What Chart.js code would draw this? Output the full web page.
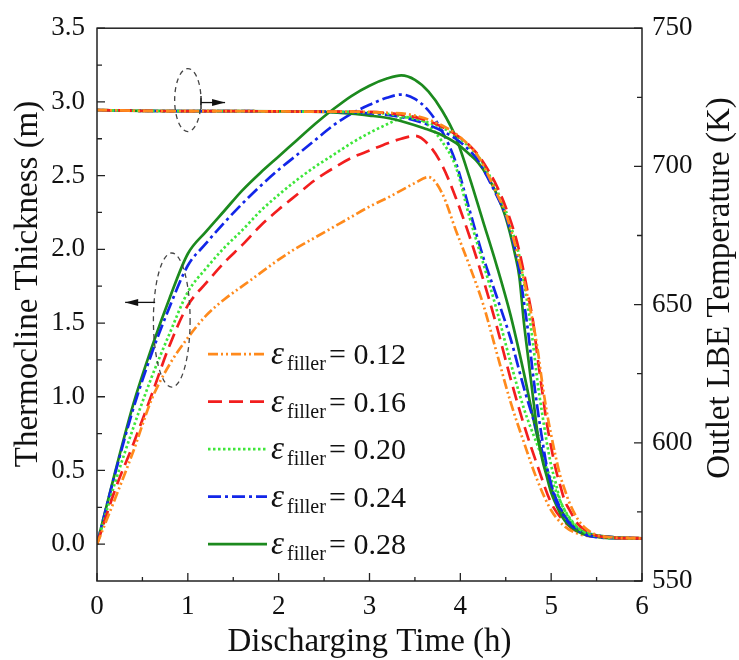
<!DOCTYPE html>
<html>
<head>
<meta charset="utf-8">
<script src="https://cdn.jsdelivr.net/npm/chart.js@4.4.1/dist/chart.umd.min.js"></script>
<style>
  html, body { margin: 0; padding: 0; background: #fff; }
  #wrap { width: 739px; height: 660px; position: relative; }
</style>
</head>
<body>
<div id="wrap"><canvas id="thermoChart" width="739" height="660"></canvas></div>
<script>
// time grids (h)
const timeThick = [0, 0.2, 0.4, 0.6, 0.8, 1.0, 1.2, 1.4, 1.6, 1.8, 2.0, 2.2, 2.4, 2.6, 2.8, 3.0, 3.2, 3.35,
                   3.5, 3.65, 3.8, 3.95, 4.1, 4.25, 4.4, 4.55, 4.7, 4.85, 5.0, 5.15, 5.3, 5.5, 5.75, 6.0];
const timeTemp = [0, 0.5, 1, 1.5, 2, 2.5, 2.8, 3.0, 3.2, 3.4, 3.6, 3.8, 3.95, 4.1, 4.2, 4.3, 4.4, 4.5, 4.6,
                  4.65, 4.7, 4.75, 4.8, 4.85, 4.9, 4.95, 5.0, 5.05, 5.1, 5.15, 5.2, 5.3, 5.4, 5.5, 5.6, 5.75, 6.0];

// thermocline thickness (m)
const thick012 = [0, 0.31, 0.63, 0.98, 1.22, 1.40, 1.55, 1.66, 1.75, 1.84, 1.93, 2.01, 2.08, 2.15, 2.22, 2.29, 2.35, 2.40,
                  2.45, 2.49, 2.38, 2.13, 1.89, 1.63, 1.30, 0.97, 0.69, 0.43, 0.23, 0.12, 0.07, 0.05, 0.045, 0.04];
const thick016 = [0, 0.37, 0.68, 1.01, 1.35, 1.62, 1.77, 1.91, 2.03, 2.16, 2.27, 2.37, 2.47, 2.55, 2.62, 2.67, 2.72, 2.75,
                  2.77, 2.71, 2.57, 2.35, 2.09, 1.80, 1.48, 1.13, 0.81, 0.53, 0.28, 0.15, 0.08, 0.055, 0.045, 0.04];
const thick020 = [0, 0.42, 0.79, 1.13, 1.43, 1.71, 1.87, 2.01, 2.13, 2.26, 2.37, 2.47, 2.56, 2.64, 2.72, 2.79, 2.85, 2.89,
                  2.90, 2.84, 2.73, 2.56, 2.22, 1.91, 1.59, 1.24, 0.92, 0.67, 0.44, 0.23, 0.11, 0.06, 0.045, 0.04];
const thick024 = [0, 0.48, 0.92, 1.29, 1.61, 1.89, 2.04, 2.18, 2.31, 2.43, 2.54, 2.64, 2.74, 2.84, 2.92, 2.98, 3.03, 3.05,
                  3.02, 2.94, 2.80, 2.59, 2.27, 1.95, 1.68, 1.40, 1.06, 0.75, 0.40, 0.19, 0.10, 0.06, 0.045, 0.04];
const thick028 = [0, 0.49, 0.95, 1.33, 1.67, 1.97, 2.12, 2.26, 2.40, 2.52, 2.63, 2.74, 2.85, 2.95, 3.04, 3.11, 3.16, 3.18,
                  3.15, 3.07, 2.94, 2.76, 2.49, 2.19, 1.89, 1.56, 1.16, 0.72, 0.38, 0.19, 0.10, 0.06, 0.045, 0.04];

// outlet LBE temperature (K)
const temp012 = [720.4, 720.1, 720.0, 720.0, 719.9, 719.8, 719.8, 719.7, 719.4, 719.0, 717.5, 714.8, 711.8, 707.5, 703.5,
                 697.3, 690.3, 683.0, 672.0, 665.5, 659.0, 651.2, 643.5, 634.0, 622.0, 611.5, 602.8, 595.0, 588.0, 583.0,
                 578.4, 572.0, 568.5, 566.7, 566.0, 565.6, 565.4];
const temp016 = [720.4, 720.1, 720.0, 720.0, 719.9, 719.8, 719.8, 719.7, 719.3, 718.5, 717.0, 714.3, 711.5, 707.6, 704.0,
                 699.0, 693.0, 685.2, 675.5, 669.2, 661.5, 653.0, 644.0, 631.0, 619.0, 607.5, 598.5, 590.5, 584.5, 579.0,
                 575.8, 570.4, 568.0, 566.4, 565.8, 565.5, 565.4];
const temp020 = [720.4, 720.1, 720.0, 720.0, 719.9, 719.8, 719.7, 719.5, 719.0, 717.9, 716.3, 714.0, 711.1, 707.0, 703.5,
                 698.0, 691.5, 684.0, 673.5, 667.5, 658.0, 648.0, 636.0, 622.0, 610.8, 600.5, 591.8, 585.5, 579.0, 575.5,
                 572.6, 569.0, 567.2, 566.2, 565.7, 565.5, 565.4];
const temp024 = [720.4, 720.1, 720.0, 720.0, 719.9, 719.8, 719.6, 719.2, 718.6, 717.5, 715.6, 712.8, 710.0, 705.8, 702.0,
                 696.0, 689.5, 682.2, 670.5, 662.5, 651.0, 639.2, 624.8, 612.3, 601.5, 591.8, 585.0, 579.0, 576.0, 573.0,
                 570.8, 568.2, 566.5, 565.9, 565.6, 565.5, 565.4];
const temp028 = [720.4, 720.1, 720.0, 720.0, 719.9, 719.7, 719.1, 718.4, 717.5, 715.9, 713.8, 711.3, 708.5, 704.4, 701.2,
                 696.4, 690.0, 681.5, 668.5, 660.0, 643.5, 630.0, 616.5, 603.5, 594.2, 588.0, 582.0, 578.0, 574.5, 571.8,
                 570.0, 567.8, 566.5, 566.0, 565.6, 565.5, 565.4];

const fillerValues = ['0.12', '0.16', '0.20', '0.24', '0.28'];

// axis ticks
const xTicks = [0, 1, 2, 3, 4, 5, 6];
const xMinorTicks = [0.5, 1.5, 2.5, 3.5, 4.5, 5.5];
const leftTicks = [0, 0.5, 1.0, 1.5, 2.0, 2.5, 3.0, 3.5];
const leftMinorTicks = [0.25, 0.75, 1.25, 1.75, 2.25, 2.75, 3.25];
const rightTicks = [550, 600, 650, 700, 750];
const rightMinorTicks = [575, 625, 675, 725];

const thickSeries = [thick012, thick016, thick020, thick024, thick028];
const tempSeries = [temp012, temp016, temp020, temp024, temp028];

const seriesStyle = [
    { color: '#ff8a1c', dash: [10, 3, 2, 3, 2, 3] },   // 0.12 dash-dot-dot
    { color: '#f21e1e', dash: [14, 7] },               // 0.16 dash
    { color: '#3ee63a', dash: [2.5, 2.5] },            // 0.20 dot
    { color: '#1226e8', dash: [13, 4, 3, 4] },         // 0.24 dash-dot
    { color: '#1c8a1e', dash: [] }                     // 0.28 solid
];

const serif = "'Liberation Serif', 'Times New Roman', serif";
const LINE_W = 2.7;

function toPoints(xs, ys) {
    return xs.map((x, i) => ({ x: x, y: ys[i] }));
}

function fixedTicks(values) {
    return function (scale) {
        scale.ticks = values.map(v => ({ value: v }));
    };
}

const datasets = [];
tempSeries.forEach((vals, i) => {
    datasets.push({
        label: 'T ' + fillerValues[i],
        data: toPoints(timeTemp, vals),
        yAxisID: 'y2',
        borderColor: seriesStyle[i].color,
        borderDash: seriesStyle[i].dash,
        borderWidth: LINE_W,
        pointRadius: 0,
        fill: false,
        cubicInterpolationMode: 'monotone'
    });
});
thickSeries.forEach((vals, i) => {
    datasets.push({
        label: 'L ' + fillerValues[i],
        data: toPoints(timeThick, vals),
        yAxisID: 'y',
        borderColor: seriesStyle[i].color,
        borderDash: seriesStyle[i].dash,
        borderWidth: LINE_W,
        pointRadius: 0,
        fill: false,
        cubicInterpolationMode: 'monotone'
    });
});

// frame, inward ticks, titles, legend and the two dashed ellipse markers
const decorPlugin = {
    id: 'decor',
    afterDraw(chart) {
        const { ctx, chartArea: a, scales } = chart;
        const sx = scales.x, sy = scales.y, sr = scales.y2;
        ctx.save();

        ctx.strokeStyle = '#222';
        ctx.lineWidth = 1.5;
        ctx.setLineDash([]);
        ctx.strokeRect(a.left, a.top, a.right - a.left, a.bottom - a.top);

        ctx.lineWidth = 1.3;
        ctx.beginPath();
        const tick = (list, len, fn) => list.forEach(v => fn(v, len));
        const xTick = (v, len) => { const p = sx.getPixelForValue(v); ctx.moveTo(p, a.bottom); ctx.lineTo(p, a.bottom - len); };
        const lTick = (v, len) => { const p = sy.getPixelForValue(v); ctx.moveTo(a.left, p); ctx.lineTo(a.left + len, p); };
        const rTick = (v, len) => { const p = sr.getPixelForValue(v); ctx.moveTo(a.right, p); ctx.lineTo(a.right - len, p); };
        tick(xTicks, 8, xTick); tick(xMinorTicks, 4, xTick);
        tick(leftTicks, 8, lTick); tick(leftMinorTicks, 5, lTick);
        tick(rightTicks, 8, rTick); tick(rightMinorTicks, 5, rTick);
        ctx.stroke();

        // axis titles
        ctx.fillStyle = '#111';
        ctx.font = '33px ' + serif;
        ctx.textAlign = 'center';
        ctx.textBaseline = 'alphabetic';
        ctx.fillText('Discharging Time (h)', (a.left + a.right) / 2, 651);
        ctx.textBaseline = 'middle';
        ctx.save();
        ctx.translate(28, 284);
        ctx.rotate(-Math.PI / 2);
        ctx.fillText('Thermocline Thickness (m)', 0, 0);
        ctx.restore();
        ctx.save();
        ctx.translate(720, 288);
        ctx.rotate(-Math.PI / 2);
        ctx.fillText('Outlet LBE Temperature (K)', 0, 0);
        ctx.restore();

        // legend
        fillerValues.forEach((val, i) => {
            const y = a.top + 326 + i * 47.5;
            const st = seriesStyle[i];
            ctx.strokeStyle = st.color;
            ctx.lineWidth = LINE_W;
            ctx.setLineDash(st.dash);
            ctx.beginPath();
            ctx.moveTo(208, y);
            ctx.lineTo(267, y);
            ctx.stroke();
            ctx.setLineDash([]);
            ctx.fillStyle = '#111';
            ctx.textAlign = 'left';
            ctx.textBaseline = 'alphabetic';
            ctx.font = 'italic 33px ' + serif;
            ctx.fillText('\u03b5', 271, y + 10);
            ctx.font = '20px ' + serif;
            ctx.fillText('filler', 287, y + 16);
            ctx.font = '30px ' + serif;
            ctx.fillText('= ' + val, 329, y + 10);
        });

        // dashed ellipses with arrows
        ctx.strokeStyle = '#444';
        ctx.fillStyle = '#111';
        ctx.lineWidth = 1.3;
        const ell = (cx, cy, rx, ry) => {
            ctx.setLineDash([5, 4]);
            ctx.beginPath();
            ctx.ellipse(cx, cy, rx, ry, 0, 0, Math.PI * 2);
            ctx.stroke();
            ctx.setLineDash([]);
        };
        const arrow = (x0, y0, x1, y) => {
            ctx.strokeStyle = '#111';
            ctx.beginPath();
            ctx.moveTo(x0, y);
            ctx.lineTo(x1, y);
            ctx.stroke();
            const d = x1 > x0 ? 1 : -1;
            ctx.beginPath();
            ctx.moveTo(x1, y);
            ctx.lineTo(x1 - d * 13, y - 3.5);
            ctx.lineTo(x1 - d * 13, y + 3.5);
            ctx.closePath();
            ctx.fill();
        };
        // temperature marker (points right)
        const e1x = sx.getPixelForValue(1.0), e1y = sr.getPixelForValue(724);
        ell(e1x, e1y, sx.getPixelForValue(1.145) - e1x, e1y - sr.getPixelForValue(735.4));
        const a1y = sr.getPixelForValue(723.1);
        const a1x = sx.getPixelForValue(1.145);
        arrow(a1x, 0, sx.getPixelForValue(1.41), a1y);
        ctx.beginPath();
        ctx.moveTo(a1x, a1y - 6.5);
        ctx.lineTo(a1x, a1y + 6.5);
        ctx.stroke();
        // thickness marker (points left)
        ctx.strokeStyle = '#444';
        const e2x = sx.getPixelForValue(0.823), e2y = sy.getPixelForValue(1.52);
        ell(e2x, e2y, sx.getPixelForValue(1.025) - e2x, e2y - sy.getPixelForValue(1.975));
        arrow(sx.getPixelForValue(0.64), 0, sx.getPixelForValue(0.31), sy.getPixelForValue(1.64));

        ctx.restore();
    }
};

const tickFont = { family: serif, size: 27 };

new Chart(document.getElementById('thermoChart').getContext('2d'), {
    type: 'line',
    data: { datasets: datasets },
    options: {
        responsive: false,
        animation: false,
        devicePixelRatio: 1,
        layout: { padding: { top: 26, left: 0, right: 0, bottom: 0 } },
        plugins: {
            legend: { display: false },
            tooltip: { enabled: false }
        },
        scales: {
            x: {
                type: 'linear',
                min: 0,
                max: 6,
                grid: { display: false, drawTicks: false },
                border: { display: false },
                ticks: {
                    font: tickFont,
                    color: '#111',
                    padding: 10,
                    maxRotation: 0,
                    callback: v => String(v)
                },
                afterBuildTicks: fixedTicks(xTicks),
                afterFit: scale => { scale.height = 79; }
            },
            y: {
                position: 'left',
                min: -0.25,
                max: 3.5,
                grid: { display: false, drawTicks: false },
                border: { display: false },
                ticks: {
                    font: tickFont,
                    color: '#111',
                    padding: 12,
                    callback: v => Number(v).toFixed(1)
                },
                afterBuildTicks: fixedTicks(leftTicks),
                afterFit: scale => { scale.width = 97; }
            },
            y2: {
                position: 'right',
                min: 550,
                max: 750,
                grid: { display: false, drawTicks: false },
                border: { display: false },
                ticks: {
                    font: tickFont,
                    color: '#111',
                    padding: 10,
                    callback: v => String(v)
                },
                afterBuildTicks: fixedTicks(rightTicks),
                afterFit: scale => { scale.width = 97; }
            }
        }
    },
    plugins: [decorPlugin]
});
</script>
</body>
</html>
